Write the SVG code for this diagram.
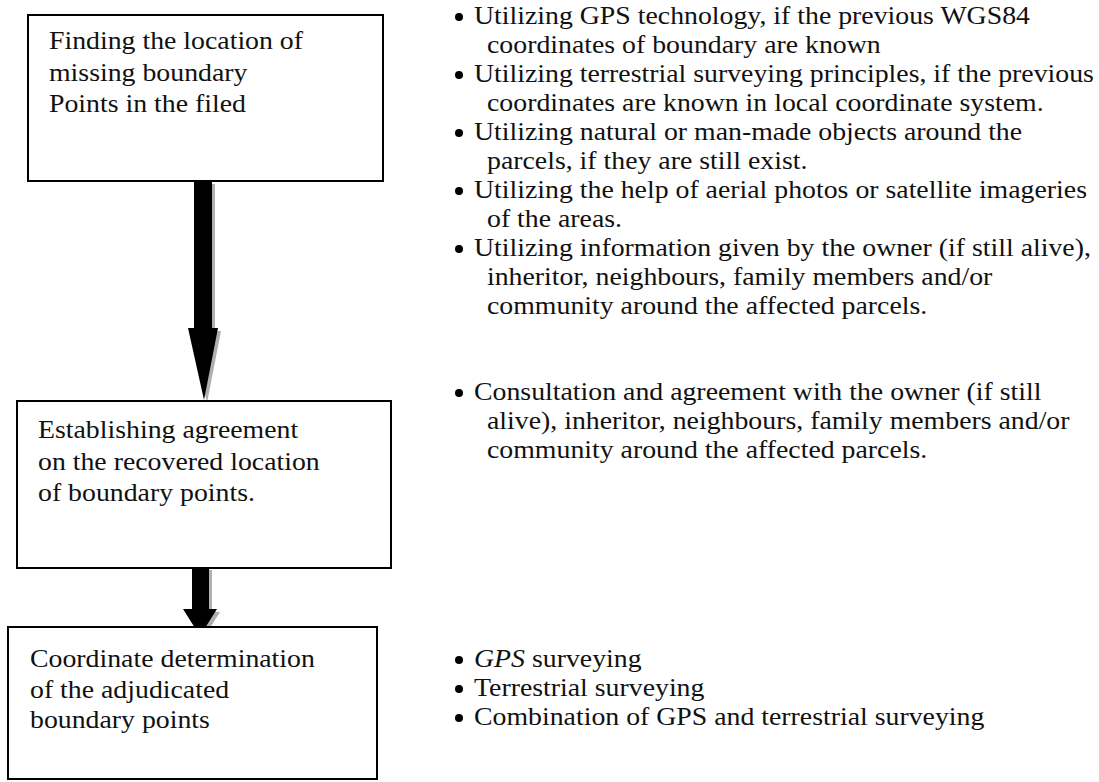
<svg xmlns="http://www.w3.org/2000/svg" width="1099" height="782" viewBox="0 0 1099 782">
  <style>
    .box { fill: #ffffff; stroke: #000000; stroke-width: 2; }
    .t { font-family: "Liberation Serif", "Times New Roman", serif; font-size: 26px; fill: #111111; }
    .it { font-style: italic; }
    .arrow { fill: #000000; }
    .shadow { fill: #b0b0b0; }
    .dot { fill: #000000; }
  </style>

  <rect width="1099" height="782" fill="#ffffff"/>

  <!-- block arrows between the steps -->
  <g id="connectors">
    <polygon class="shadow" points="197,184 215,184 215,331 221,331 207,403 191,331 197,331"/>
    <polygon class="arrow" points="194,181 212,181 212,328 218,328 204,400 188,328 194,328"/>
    <polygon class="shadow" points="195,570 212,570 212,612 220,612 203,639 186,612 195,612"/>
    <polygon class="arrow" points="192,567 209,567 209,609 217,609 200,636 183,609 192,609"/>
  </g>

  <!-- step 1 -->
  <g id="step-find">
    <rect class="box" x="28" y="15" width="355" height="166"/>
    <text class="t" transform="translate(49 49) scale(1.07 1)">Finding the location of</text>
    <text class="t" transform="translate(49 81) scale(1.07 1)">missing boundary</text>
    <text class="t" transform="translate(49 112) scale(1.07 1)">Points in the filed</text>
  </g>

  <!-- step 2 -->
  <g id="step-agree">
    <rect class="box" x="17" y="401" width="374" height="167"/>
    <text class="t" transform="translate(38 438) scale(1.07 1)">Establishing agreement</text>
    <text class="t" transform="translate(38 470) scale(1.07 1)">on the recovered location</text>
    <text class="t" transform="translate(38 501) scale(1.07 1)">of boundary points.</text>
  </g>

  <!-- step 3 -->
  <g id="step-coord">
    <rect class="box" x="8" y="627" width="369" height="152"/>
    <text class="t" transform="translate(30 667) scale(1.07 1)">Coordinate determination</text>
    <text class="t" transform="translate(30 698) scale(1.07 1)">of the adjudicated</text>
    <text class="t" transform="translate(30 728) scale(1.07 1)">boundary points</text>
  </g>

  <!-- methods for step 1 -->
  <g id="notes-find">
    <circle class="dot" cx="459" cy="17" r="4"/>
    <text class="t" transform="translate(474 24) scale(1.07 1)">Utilizing GPS technology, if the previous WGS84</text>
    <text class="t" transform="translate(487 53) scale(1.07 1)">coordinates of boundary are known</text>
    <circle class="dot" cx="459" cy="75" r="4"/>
    <text class="t" transform="translate(474 82) scale(1.07 1)">Utilizing terrestrial surveying principles, if the previous</text>
    <text class="t" transform="translate(487 111) scale(1.07 1)">coordinates are known in local coordinate system.</text>
    <circle class="dot" cx="459" cy="133" r="4"/>
    <text class="t" transform="translate(474 140) scale(1.07 1)">Utilizing natural or man-made objects around the</text>
    <text class="t" transform="translate(487 169) scale(1.07 1)">parcels, if they are still exist.</text>
    <circle class="dot" cx="459" cy="191" r="4"/>
    <text class="t" transform="translate(474 198) scale(1.07 1)">Utilizing the help of aerial photos or satellite imageries</text>
    <text class="t" transform="translate(487 227) scale(1.07 1)">of the areas.</text>
    <circle class="dot" cx="459" cy="249" r="4"/>
    <text class="t" transform="translate(474 256) scale(1.07 1)">Utilizing information given by the owner (if still alive),</text>
    <text class="t" transform="translate(487 285) scale(1.07 1)">inheritor, neighbours, family members and/or</text>
    <text class="t" transform="translate(487 314) scale(1.07 1)">community around the affected parcels.</text>
  </g>

  <!-- method for step 2 -->
  <g id="notes-agree">
    <circle class="dot" cx="459" cy="393" r="4"/>
    <text class="t" transform="translate(474 400) scale(1.07 1)">Consultation and agreement with the owner (if still</text>
    <text class="t" transform="translate(487 429) scale(1.07 1)">alive), inheritor, neighbours, family members and/or</text>
    <text class="t" transform="translate(487 458) scale(1.07 1)">community around the affected parcels.</text>
  </g>

  <!-- methods for step 3 -->
  <g id="notes-coord">
    <circle class="dot" cx="459" cy="660" r="4"/>
    <text class="t" transform="translate(474 667) scale(1.07 1)"><tspan class="it">GPS</tspan> surveying</text>
    <circle class="dot" cx="459" cy="689" r="4"/>
    <text class="t" transform="translate(474 696) scale(1.07 1)">Terrestrial surveying</text>
    <circle class="dot" cx="459" cy="718" r="4"/>
    <text class="t" transform="translate(474 725) scale(1.07 1)">Combination of GPS and terrestrial surveying</text>
  </g>
</svg>
